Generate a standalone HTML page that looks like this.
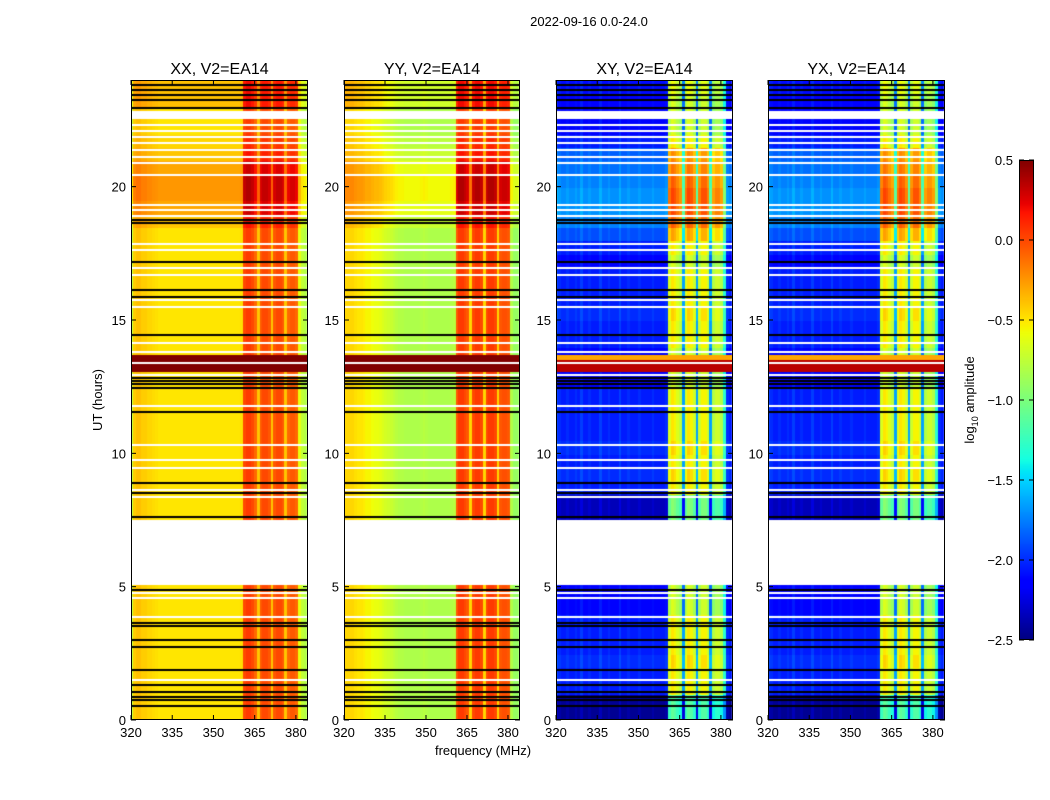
<!DOCTYPE html>
<html><head><meta charset="utf-8">
<style>
body{margin:0;background:#fff;width:1050px;height:800px;overflow:hidden;position:relative;font-family:"Liberation Sans",sans-serif;}
canvas{position:absolute;}
svg{position:absolute;left:0;top:0;}
</style></head><body>
<canvas id="c0" width="177" height="640" style="left:131px;top:80px"></canvas>
<canvas id="c1" width="176" height="640" style="left:344px;top:80px"></canvas>
<canvas id="c2" width="177" height="640" style="left:556px;top:80px"></canvas>
<canvas id="c3" width="177" height="640" style="left:768px;top:80px"></canvas>
<canvas id="cb" width="15" height="480" style="left:1019px;top:160px"></canvas>
<svg id="ax" width="1050" height="800"></svg>
<script>
// frequency profiles (1 MHz bins, 320..383), log10 amplitude
const freqXX=[-0.75,-0.42,-0.38,-0.38,-0.42,-0.42,-0.45,-0.45,-0.47,-0.48,-0.5,-0.5,-0.5,-0.5,-0.5,-0.5,-0.5,-0.5,-0.5,-0.5,-0.5,-0.5,-0.5,-0.5,-0.5,-0.5,-0.5,-0.5,-0.5,-0.5,-0.5,-0.5,-0.5,-0.5,-0.5,-0.5,-0.5,-0.5,-0.5,-0.5,-0.48,0.0,0.05,0.05,0.0,-0.1,-0.4,-0.05,0.0,0.0,-0.05,-0.4,-0.05,0.0,0.0,-0.05,-0.4,-0.1,-0.05,-0.05,-0.1,-0.6,-0.75,-0.8];
const freqYY=[-0.45,-0.45,-0.45,-0.45,-0.48,-0.5,-0.5,-0.52,-0.55,-0.55,-0.58,-0.6,-0.6,-0.62,-0.65,-0.68,-0.7,-0.72,-0.75,-0.78,-0.8,-0.8,-0.82,-0.82,-0.82,-0.82,-0.82,-0.82,-0.8,-0.78,-0.8,-0.82,-0.82,-0.82,-0.82,-0.82,-0.82,-0.82,-0.82,-0.8,-0.78,-0.05,0.05,0.05,0.0,-0.05,-0.45,0.0,0.05,0.05,0.0,-0.45,0.0,0.05,0.05,0.0,-0.45,-0.05,-0.02,-0.02,-0.05,-0.8,-0.9,-0.9];
const freqXY=[-2.05,-2.1,-2.15,-2.15,-2.1,-2.15,-2.15,-2.1,-2.15,-2.05,-2.15,-2.15,-2.1,-2.15,-2.15,-2.15,-2.05,-2.15,-2.15,-2.1,-2.15,-2.15,-2.15,-2.05,-2.15,-2.15,-2.1,-2.15,-2.15,-2.15,-2.1,-2.15,-2.15,-2.15,-2.15,-2.1,-2.15,-2.15,-2.15,-2.15,-2.1,-0.8,-0.65,-0.7,-0.8,-0.9,-1.8,-0.8,-0.65,-0.7,-0.85,-1.8,-0.85,-0.7,-0.7,-0.85,-1.8,-0.95,-0.85,-0.85,-0.95,-1.4,-2.1,-2.15];
// time offsets per 0.5 h (0..24)
const timeOffPar=[0,0,0,0,0,0,0,0,0,0,0,0,0,0,0,0,0,0,0,0,0,0,0,0,0,0,0,0,0,0,0,0,0,0,0,0,0,0.1,0.2,0.25,0.25,0.2,0.1,0.05,0,0,0.12,0.12];
const timeOffCross=[-0.3,-0.3,0.1,0.1,0.15,0.1,0.1,0.1,0,0,0,0,0,0,0,-0.2,-0.2,0.1,0.15,0.1,0.15,0.1,0.1,0.1,0.1,0,0,0,0.1,0.1,0.15,0.1,0.1,0.1,0,0.1,0.25,0.4,0.45,0.45,0.4,0.35,0.3,0.1,0,0,0,0.05];
// flagged data (hours)
const blackLines=[23.81,23.62,23.44,23.25,22.95,18.75,18.64,17.17,16.12,15.86,14.44,12.83,12.71,12.6,12.45,11.55,8.89,8.51,7.61,4.88,3.64,3.52,3.0,2.74,1.88,1.31,1.05,0.86,0.75,0.53];
const whiteLines=[22.31,22.09,21.86,21.64,21.38,21.11,20.89,20.44,19.31,19.13,18.9,17.85,17.63,16.95,16.69,15.75,15.49,14.14,13.8,13.38,12.94,11.78,10.31,9.75,9.45,8.62,8.36,4.76,4.58,3.86,1.5];
const whiteBands=[[22.55,22.85],[5.06,7.5]];
const rfiBand=[13.05,13.7];
const titles=["XX, V2=EA14","YY, V2=EA14","XY, V2=EA14","YX, V2=EA14"];
const xTicks=[320,335,350,365,380];
const yTicks=[0,5,10,15,20];
const cbTicks=[-2.5,-2.0,-1.5,-1.0,-0.5,0.0,0.5];
const vmin=-2.5,vmax=0.5,fmin=320,fmax=384.4,tmax=24;
const JR=[[0,0],[0.35,0],[0.66,1],[0.89,1],[1,0.5]];
const JG=[[0,0],[0.125,0],[0.375,1],[0.64,1],[0.91,0],[1,0]];
const JB=[[0,0.5],[0.11,1],[0.34,1],[0.65,0],[1,0]];
function seg(s,t){for(let i=1;i<s.length;i++){if(t<=s[i][0]){const a=s[i-1],b=s[i];return a[1]+(b[1]-a[1])*(t-a[0])/(b[0]-a[0]);}}return s[s.length-1][1];}
function jet(v){let t=(v-vmin)/(vmax-vmin);t=Math.max(0,Math.min(1,t));
 const c=x=>Math.round(255*x);
 return `rgb(${c(seg(JR,t))},${c(seg(JG,t))},${c(seg(JB,t))})`;}
const panels=[{c:"c0",f:freqXX,t:timeOffPar,r:0.5},{c:"c1",f:freqYY,t:timeOffPar,r:0.5},{c:"c2",f:freqXY,t:timeOffCross,r:0.35},{c:"c3",f:freqXY,t:timeOffCross,r:0.35}];
panels.forEach(p=>{const cv=document.getElementById(p.c),ctx=cv.getContext('2d');const W=cv.width,H=cv.height;
 const X=f=>(f-fmin)/(fmax-fmin)*W, Y=hh=>H-hh/tmax*H;
 const cross=p.t===timeOffCross;
 for(let i=0;i<p.t.length;i++){for(let j=0;j<p.f.length;j++){
  const strip=j>40&&j<61;
  let v=p.f[j]+p.t[i]*(cross?(strip?1.5:1):(strip?1.3:1));
  ctx.fillStyle=jet(v);const x0=Math.floor(X(fmin+j)),x1=Math.floor(X(fmin+j+1));ctx.fillRect(x0,Math.floor(Y((i+1)*0.5)),x1-x0+1,Math.ceil(Y(i*0.5)-Y((i+1)*0.5))+1);}}
 ctx.fillStyle=jet(p.r);ctx.fillRect(0,Math.round(Y(rfiBand[1])),W,Math.round(Y(rfiBand[0])-Y(rfiBand[1])));
 if(cross){ctx.fillStyle=jet(-0.3);ctx.fillRect(0,Math.round(Y(rfiBand[1])),W,Math.round((Y(rfiBand[0])-Y(rfiBand[1]))*0.3));}
 ctx.fillStyle="#fff";whiteBands.forEach(b=>ctx.fillRect(0,Math.round(Y(b[1])),W,Math.round(Y(b[0])-Y(b[1]))));
 whiteLines.forEach(hh=>ctx.fillRect(0,Math.round(Y(hh))-1,W,2));
 ctx.fillStyle="#000";blackLines.forEach(hh=>ctx.fillRect(0,Math.round(Y(hh))-1,W,2));
});
// colorbar
(()=>{const cv=document.getElementById('cb'),ctx=cv.getContext('2d');for(let y=0;y<480;y++){ctx.fillStyle=jet(vmax-(y+0.5)/480*(vmax-vmin));ctx.fillRect(0,y,15,1);}})();
const svg=document.getElementById('ax');const NS="http://www.w3.org/2000/svg";
function el(tag,attrs,txt){const e=document.createElementNS(NS,tag);for(const k in attrs)e.setAttribute(k,attrs[k]);if(txt!==undefined)e.textContent=txt;svg.appendChild(e);return e;}
const lefts=[131,344,556,768],widths=[177,176,177,177],TOPY=80,PH=640;
lefts.forEach((L,k)=>{const W=widths[k];
 const fr=el('rect',{x:L+0.5,y:TOPY+0.5,width:W-1,height:PH-1,fill:'none',stroke:'#000','stroke-width':1});
 
 const t=el('text',{x:L+W/2,y:74,'text-anchor':'middle','font-size':16},titles[k]);
 
 xTicks.forEach(f=>{const x=L+(f-fmin)/(fmax-fmin)*W;
  el('line',{x1:x,x2:x,y1:TOPY+PH,y2:TOPY+PH-5,stroke:'#000'});el('line',{x1:x,x2:x,y1:TOPY,y2:TOPY+5,stroke:'#000'});
  const tl=el('text',{x:x,y:TOPY+PH+17,'text-anchor':'middle','font-size':13},String(f));
  });
 yTicks.forEach(v=>{const y=TOPY+PH-v/tmax*PH;
  el('line',{x1:L,x2:L+5,y1:y,y2:y,stroke:'#000'});el('line',{x1:L+W,x2:L+W-5,y1:y,y2:y,stroke:'#000'});
  const tl=el('text',{x:L-5,y:y+5,'text-anchor':'end','font-size':13},String(v));
  });
});
const st=el('text',{x:589,y:26,'text-anchor':'middle','font-size':13},'2022-09-16 0.0-24.0');

const yl=el('text',{x:0,y:0,transform:'translate(102,400) rotate(-90)','text-anchor':'middle','font-size':13},'UT (hours)');

const xl=el('text',{x:483,y:755,'text-anchor':'middle','font-size':13},'frequency (MHz)');

const cbf=el('rect',{x:1019.5,y:160.5,width:14,height:479,fill:'none',stroke:'#000'});

cbTicks.forEach(v=>{const y=160+(vmax-v)/(vmax-vmin)*480;
 el('line',{x1:1019,x2:1024,y1:y,y2:y,stroke:'#000'});el('line',{x1:1034,x2:1029,y1:y,y2:y,stroke:'#000'});
 const tl=el('text',{x:1013,y:y+5,'text-anchor':'end','font-size':13},(v<0?'\u2212':'')+Math.abs(v).toFixed(1));
 });
const cl=el('text',{x:0,y:0,transform:'translate(974,400) rotate(-90)','text-anchor':'middle','font-size':13});

cl.innerHTML='log<tspan font-size="9" dy="4">10</tspan><tspan dy="-4"> amplitude</tspan>';
</script>
</body></html>
